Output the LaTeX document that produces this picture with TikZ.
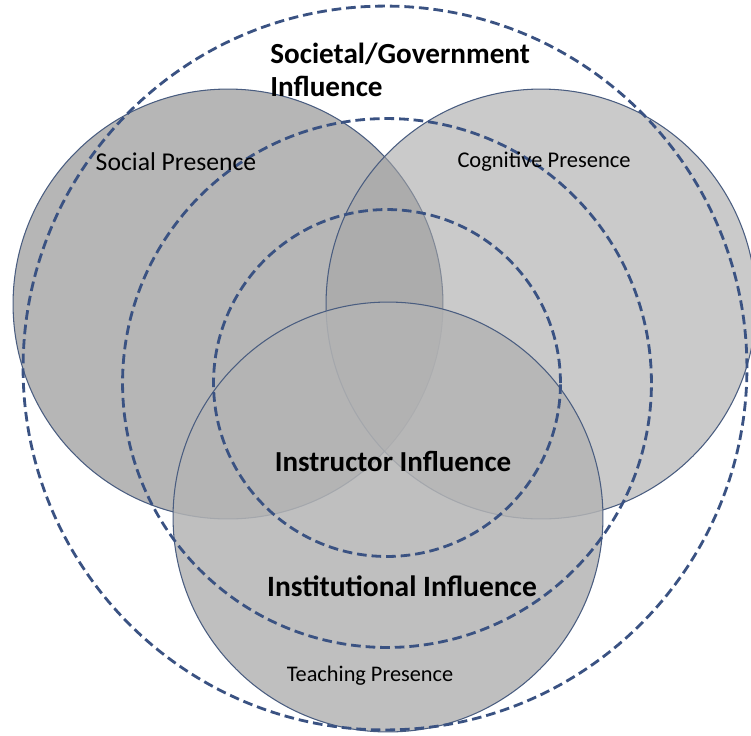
\documentclass[tikz,border=0pt]{standalone}
\usepackage{fontspec}
\setmainfont{Carlito}
\definecolor{rimblue}{RGB}{74,93,128}
\definecolor{dashblue}{RGB}{58,82,130}

\begin{document}
\begin{tikzpicture}[x=0.02cm, y=-0.02cm]
\useasboundingbox (0,0) rectangle (751,735);

\begin{scope}[every node/.style={circle, draw=rimblue, line width=0.6pt, inner sep=0pt, minimum size=8.6cm}]
 \node[fill={rgb,255:red,182;green,182;blue,182}] (social) at (228,304) {};
 \node[fill={rgb,255:red,166;green,166;blue,166}, fill opacity=0.6] (cognitive) at (541,304) {};
 \node[fill={rgb,255:red,180;green,180;blue,180}, fill opacity=0.85] (teaching) at (388,517) {};
\end{scope}

\begin{scope}[every node/.style={circle, draw=dashblue, line width=1.6pt, dash pattern=on 5.5pt off 2.8pt, inner sep=0pt}]
 \node[minimum size=14.48cm] (societal) at (385,368) {};
 \node[minimum size=10.58cm] (institutional) at (387,383) {};
 \node[minimum size=6.94cm] (instructor) at (387,383) {};
\end{scope}

\node[font=\fontsize{14.6}{16}\selectfont] (sociallabel) at (176,162) {Social Presence};
\node[font=\fontsize{12.8}{15}\selectfont] (cognitivelabel) at (544,162) {Cognitive Presence};
\node[font=\fontsize{12.7}{15}\selectfont] (teachinglabel) at (370,676) {Teaching Presence};
\node[font=\bfseries\fontsize{16.5}{19}\selectfont] (instructorlabel) at (393,461) {Instructor Influence};
\node[font=\bfseries\fontsize{16.8}{19}\selectfont] (institutionallabel) at (402,586) {Institutional Influence};
\node[font=\bfseries\fontsize{16.6}{19.2}\selectfont, align=left, anchor=west, inner sep=0pt] (societallabel) at (270,70) {Societal/Government\\Influence};

\end{tikzpicture}
\end{document}
